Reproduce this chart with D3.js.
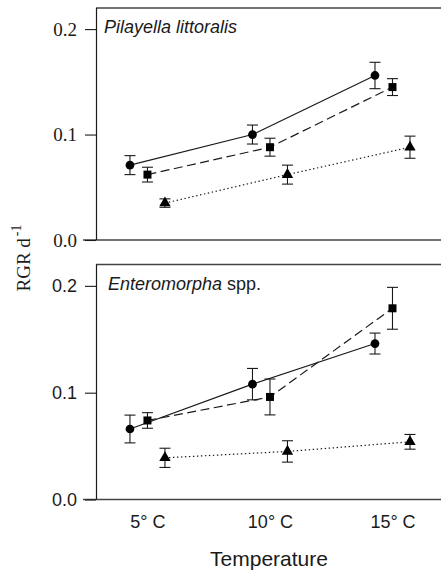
<!DOCTYPE html>
<html>
<head>
<meta charset="utf-8">
<script src="https://cdnjs.cloudflare.com/ajax/libs/d3/7.8.5/d3.min.js"></script>
<style>
  body { margin: 0; background: #fff; }
  svg { display: block; }
</style>
</head>
<body>
<svg id="chart" width="441" height="572"></svg>
<script>
// Temperatures (x categories)
var temps = [5, 10, 15];
var tempLabels = ['5\u00b0 C', '10\u00b0 C', '15\u00b0 C'];
var yTicks = [0, 0.1, 0.2];

// Pilayella littoralis
var pilCircle = [0.071, 0.100, 0.156];
var pilCircleErr = [0.009, 0.009, 0.0125];
var pilSquare = [0.062, 0.088, 0.145];
var pilSquareErr = [0.007, 0.0085, 0.008];
var pilTriangle = [0.035, 0.062, 0.088];
var pilTriangleErr = [0.004, 0.009, 0.0105];

// Enteromorpha spp.
var entCircle = [0.066, 0.108, 0.146];
var entCircleErr = [0.013, 0.0147, 0.0098];
var entSquare = [0.074, 0.096, 0.179];
var entSquareErr = [0.0073, 0.0168, 0.0196];
var entTriangle = [0.039, 0.045, 0.054];
var entTriangleErr = [0.009, 0.010, 0.0069];

var svg = d3.select('#chart');
var ink = '#1a1a1a';
var sans = '"Liberation Sans", Arial, sans-serif';
var serif = '"Liberation Serif", "Times New Roman", serif';

var x = d3.scaleLinear().domain([2.9, 16.98]).range([96, 441]);

// series styles: marker, dash, horizontal offset
var styles = {
  circle: { sym: d3.symbolCircle, size: 60, dash: null, off: -17.5 },
  square: { sym: d3.symbolSquare, size: 64, dash: '9,4.5', off: 0 },
  triangle: { sym: d3.symbolTriangle, size: 56, dash: '1.4,2.6', off: 17.5 }
};

function panel(top, bottom, italicPart, plainPart, series, serifTicks, showX) {
  var y = d3.scaleLinear().domain([0, 0.22]).range([bottom, top]);
  var g = svg.append('g');

  // frame: top line and bottom axis line (left one comes from the axis)
  g.append('line').attr('x1', 96).attr('x2', 441).attr('y1', top).attr('y2', top)
    .attr('stroke', '#444').attr('stroke-width', 1.3);
  g.append('line').attr('x1', 83).attr('x2', 441).attr('y1', bottom).attr('y2', bottom)
    .attr('stroke', '#444').attr('stroke-width', 1.5);

  var yAxis = g.append('g')
    .attr('transform', 'translate(96,0)')
    .call(d3.axisLeft(y).tickValues(yTicks).tickFormat(d3.format('.1f'))
      .tickSize(11).tickSizeOuter(0).tickPadding(8));
  yAxis.select('.domain').attr('stroke', ink).attr('stroke-width', 1.2)
    .attr('d', 'M0.5,' + top + 'V' + bottom);
  yAxis.selectAll('.tick line').attr('stroke', ink).attr('stroke-width', 1.1);
  yAxis.selectAll('.tick text')
    .attr('fill', ink)
    .style('font-family', serifTicks ? serif : sans)
    .style('font-size', serifTicks ? '19px' : '18px');

  // title
  var t = g.append('text').attr('x', serifTicks ? 104 : 108).attr('y', top + 25)
    .style('font-family', sans)
    .style('font-size', '18px').attr('fill', ink);
  t.append('tspan').style('font-style', 'italic').text(italicPart);
  if (plainPart) t.append('tspan').text(plainPart);

  // series
  series.forEach(function(s) {
    var st = styles[s.type];
    var pts = temps.map(function(tp, i) {
      return { px: x(tp) + st.off, v: s.values[i], e: s.err[i] };
    });
    var line = d3.line().x(function(d) { return d.px; }).y(function(d) { return y(d.v); });
    g.append('path').datum(pts).attr('d', line)
      .attr('fill', 'none').attr('stroke', ink).attr('stroke-width', 1.2)
      .attr('stroke-dasharray', st.dash);

    var eb = g.append('g').selectAll('g').data(pts).enter().append('g');
    eb.append('line')
      .attr('x1', function(d) { return d.px; }).attr('x2', function(d) { return d.px; })
      .attr('y1', function(d) { return y(d.v + d.e); }).attr('y2', function(d) { return y(d.v - d.e); })
      .attr('stroke', ink).attr('stroke-width', 1.1);
    [1, -1].forEach(function(sgn) {
      eb.append('line')
        .attr('x1', function(d) { return d.px - 5.5; }).attr('x2', function(d) { return d.px + 5.5; })
        .attr('y1', function(d) { return y(d.v + sgn * d.e); }).attr('y2', function(d) { return y(d.v + sgn * d.e); })
        .attr('stroke', ink).attr('stroke-width', 1.1);
    });
    eb.append('path')
      .attr('d', d3.symbol().type(st.sym).size(st.size))
      .attr('transform', function(d) { return 'translate(' + d.px + ',' + y(d.v) + ')'; })
      .attr('fill', '#000');
  });

  if (showX) {
    var xAxis = g.append('g').attr('transform', 'translate(0,' + bottom + ')')
      .call(d3.axisBottom(x).tickValues(temps)
        .tickFormat(function(d, i) { return tempLabels[i]; })
        .tickSize(0).tickPadding(16));
    xAxis.select('.domain').remove();
    xAxis.selectAll('.tick text').attr('fill', ink)
      .style('font-family', sans)
      .style('font-size', '18px');
  }
}

panel(8, 240, 'Pilayella littoralis', null, [
  { type: 'circle', values: pilCircle, err: pilCircleErr },
  { type: 'square', values: pilSquare, err: pilSquareErr },
  { type: 'triangle', values: pilTriangle, err: pilTriangleErr }
], true, false);

panel(264.5, 499.5, 'Enteromorpha', ' spp.', [
  { type: 'circle', values: entCircle, err: entCircleErr },
  { type: 'square', values: entSquare, err: entSquareErr },
  { type: 'triangle', values: entTriangle, err: entTriangleErr }
], false, true);

// axis titles
svg.append('text').attr('x', 269).attr('y', 566).attr('text-anchor', 'middle')
  .style('font-family', sans).style('font-size', '21px')
  .attr('fill', ink).text('Temperature');

var yl = svg.append('text')
  .attr('transform', 'translate(30,258) rotate(-90)').attr('text-anchor', 'middle')
  .style('font-family', serif).style('font-size', '19px')
  .attr('fill', ink);
yl.append('tspan').text('RGR d');
yl.append('tspan').attr('dx', 2).attr('dy', -9).style('font-size', '14px').text('-1');
</script>
</body>
</html>
